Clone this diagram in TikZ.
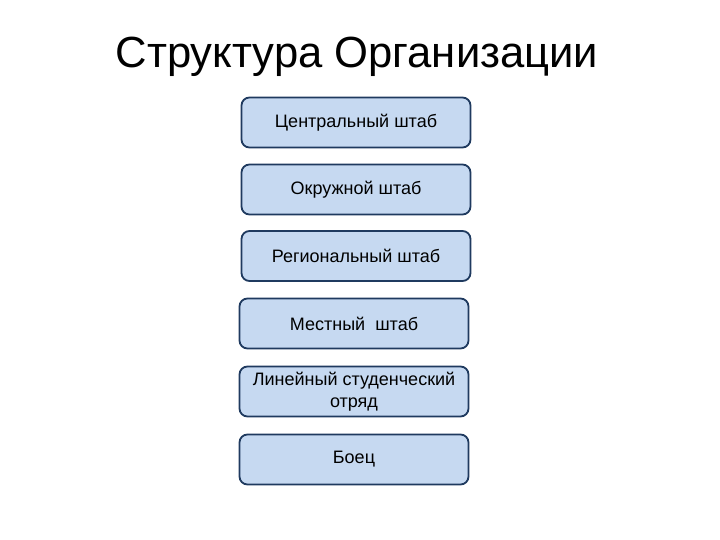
\documentclass[tikz,border=0pt]{standalone}
\usepackage{fontspec}
\setmainfont{Liberation Sans}
\definecolor{boxfill}{HTML}{C6D9F1}
\definecolor{boxdraw}{HTML}{1F3A5F}
\begin{document}
\begin{tikzpicture}[x=1pt,y=-1pt,
  orgbox/.style={draw=boxdraw,fill=boxfill,line width=1.8pt,rounded corners=8pt,
    minimum width=229pt,minimum height=50pt,align=center,font=\fontsize{18}{21.5}\selectfont,inner sep=2pt}]
\useasboundingbox (0,0) rectangle (720,540);
\node (title) at (357,57) {\fontsize{43.6}{48}\selectfont Структура Организации};
\node[orgbox] (b1) at (356,122.5) {Центральный штаб};
\node[orgbox] (b2) at (356,189.5) {Окружной штаб};
\node[orgbox] (b3) at (356,256) {Региональный штаб};
\node[orgbox] (b4) at (354,323.5) {Местный\ \ штаб};
\node[orgbox] (b5) at (354,391.5) {Линейный студенческий\\отряд};
\node[orgbox] (b6) at (354,459.5) {Боец};
\end{tikzpicture}
\end{document}
